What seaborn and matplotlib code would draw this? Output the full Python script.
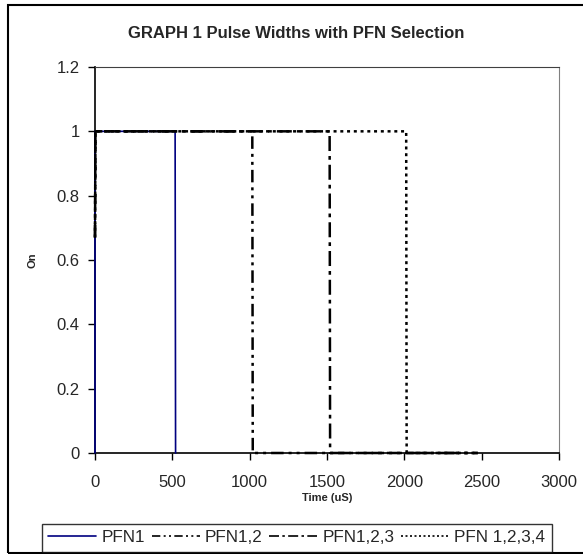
import pandas as pd
import seaborn as sns
from matplotlib import pyplot as plt
from matplotlib.patches import Rectangle
from matplotlib.ticker import FuncFormatter

# data
series_names = ["PFN1", "PFN1,2", "PFN1,2,3", "PFN 1,2,3,4"]
pfn1_time = [0, 0, 518, 521]
pfn1_on = [0, 1, 1, 0]
pfn12_time = [0, 3, 1017, 1020, 2475]
pfn12_on = [0.67, 1, 1, 0, 0]
pfn123_time = [0, 3, 1517, 1520, 2475]
pfn123_on = [0.67, 1, 1, 0, 0]
pfn1234_time = [0, 3, 2012, 2015, 2475]
pfn1234_on = [0.67, 1, 1, 0, 0]

x_ticks = [0, 500, 1000, 1500, 2000, 2500, 3000]
y_ticks = [0, 0.2, 0.4, 0.6, 0.8, 1.0, 1.2]


def build_frame() -> pd.DataFrame:
    # long-form table so seaborn can map hue/style per series
    parts = []
    for name, t, v in zip(
        series_names,
        [pfn1_time, pfn12_time, pfn123_time, pfn1234_time],
        [pfn1_on, pfn12_on, pfn123_on, pfn1234_on],
    ):
        parts.append(pd.DataFrame({"Time": t, "On": v, "Series": name}))
    return pd.concat(parts, ignore_index=True)


df = build_frame()

sns.set_style("ticks")
plt.rcParams["font.family"] = ["Liberation Sans", "DejaVu Sans"]

fig = plt.figure(figsize=(5.83, 5.54), dpi=100)
ax = fig.add_axes([95 / 583, 1 - 453 / 554, (559 - 95) / 583, (453 - 67) / 554])

palette = {
    "PFN1": "#000080",
    "PFN1,2": "black",
    "PFN1,2,3": "black",
    "PFN 1,2,3,4": "black",
}
dashes = {
    "PFN1": "",
    "PFN1,2": (5, 2, 1.2, 2, 1.2, 2),
    "PFN1,2,3": (6, 2, 1.5, 2),
    "PFN 1,2,3,4": (1.2, 1.5),
}
sizes = {"PFN1": 1.2, "PFN1,2": 1.8, "PFN1,2,3": 1.8, "PFN 1,2,3,4": 1.8}

sns.lineplot(
    data=df,
    x="Time",
    y="On",
    hue="Series",
    style="Series",
    size="Series",
    hue_order=series_names,
    style_order=series_names,
    size_order=series_names,
    palette=palette,
    dashes=dashes,
    sizes=sizes,
    sort=False,
    estimator=None,
    ax=ax,
)
# keep the 0-level segments visible on top of the x axis line
for line in ax.get_lines():
    line.set_clip_on(False)
    line.set_zorder(3)

handles, labels = ax.get_legend_handles_labels()
ax.get_legend().remove()
for h in handles:
    h.set_linewidth(1.2)
fig.legend(
    handles,
    labels,
    loc="lower center",
    bbox_to_anchor=(0.509, 0.0),
    ncol=4,
    frameon=True,
    fancybox=False,
    edgecolor="black",
    fontsize=12.3,
    handlelength=2.8,
    handletextpad=0.3,
    columnspacing=0.4,
    borderpad=0.4,
    borderaxespad=0.1,
)

ax.set_xlim(0, 3000)
ax.set_ylim(0, 1.2)
ax.set_xticks(x_ticks)
ax.set_yticks(y_ticks)
ax.yaxis.set_major_formatter(FuncFormatter(lambda v, _: f"{v:g}"))
ax.tick_params(axis="both", labelsize=12, length=5, width=1, color="black", direction="out")
ax.tick_params(axis="x", pad=11)
ax.tick_params(axis="y", pad=6)

for side in ["left", "bottom"]:
    ax.spines[side].set_color("black")
    ax.spines[side].set_linewidth(1.2)
ax.spines["top"].set_color("#404040")
ax.spines["right"].set_color("#808080")
ax.spines["top"].set_visible(True)
ax.spines["right"].set_visible(True)

ax.set_xlabel("Time (uS)", fontsize=8, fontweight="bold", labelpad=2)
ax.set_ylabel("On", fontsize=8, fontweight="bold")
ax.yaxis.set_label_coords(-0.123, 0.5)

fig.text(0.508, 0.94, "GRAPH 1 Pulse Widths with PFN Selection", ha="center", va="center",
         fontsize=12, fontweight="bold")

# outer chart border
fig.patches.append(
    Rectangle((8 / 583, 1 / 554), 1.2, 548 / 554, transform=fig.transFigure,
              fill=False, edgecolor="black", linewidth=1.5)
)

fig.savefig("out.png", dpi=100)
plt.close(fig)
